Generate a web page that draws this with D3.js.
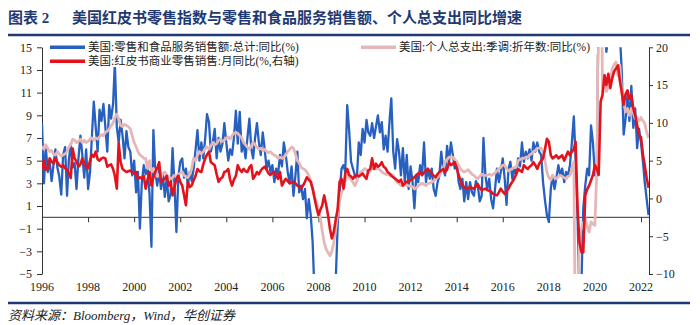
<!DOCTYPE html>
<html><head><meta charset="utf-8">
<script src="https://cdn.jsdelivr.net/npm/d3@7"></script>
<style>body{margin:0;background:#fff;} svg{display:block;}</style>
</head><body>
<svg id="chart" width="700" height="325"></svg>
<script>
// monthly series, first value = Jan 1996 on the chart's time axis
const startYear = 1996;
const retailYoY = [
 8.3,3.0,6.2,4.0,5.0,3.2,4.6,6.0,4.4,3.6,2.0,5.5,
 6.2,1.9,5.0,6.5,4.4,4.8,2.5,5.2,7.2,5.5,3.5,6.0,
 2.5,4.0,7.0,10.2,8.0,5.8,9.5,8.5,10.0,8.0,5.8,9.9,
 8.7,10.0,13.6,8.0,6.6,8.6,7.2,5.2,7.6,6.2,5.8,3.7,
 5.0,2.2,4.0,-1.0,3.0,4.6,3.8,4.4,2.0,-2.6,7.7,4.0,
 2.8,4.2,2.5,3.8,1.8,3.5,1.4,2.0,6.1,3.0,-1.3,3.5,
 4.9,5.2,3.5,4.3,2.9,4.0,3.2,4.3,6.0,7.7,5.0,6.6,
 5.2,7.0,9.1,8.4,5.8,6.6,7.8,5.2,7.0,5.8,6.5,8.3,
 6.6,5.0,6.0,5.5,7.0,9.4,6.5,9.3,5.8,6.6,5.2,7.0,
 8.7,6.0,5.2,7.0,8.3,6.6,5.5,7.5,6.0,4.3,5.0,4.0,
 4.6,3.1,4.3,3.8,5.5,4.5,6.6,5.5,4.0,3.0,4.5,1.9,
 3.7,5.8,2.2,2.8,1.6,2.5,-0.1,1.6,0.2,-2.2,-7.0,-9.5,
 -9.8,-8.5,-9.5,-9.0,-8.0,-8.5,-7.5,-6.5,-6.0,-5.5,-0.7,2.2,
 4.3,4.6,4.0,9.9,7.7,4.9,4.3,3.7,3.4,6.6,5.5,7.8,
 6.6,8.6,7.5,7.2,8.3,7.0,8.0,9.0,7.5,8.4,6.0,7.2,
 5.8,8.5,10.5,5.8,4.3,6.9,5.8,3.7,6.1,3.1,5.5,2.5,
 4.5,3.1,0.8,3.7,3.1,4.6,3.7,6.6,3.1,4.3,3.4,4.3,
 2.5,1.9,3.0,3.7,5.8,4.3,3.7,6.3,4.9,6.6,5.5,4.3,
 4.9,3.1,2.5,3.4,1.4,3.1,1.6,3.1,2.2,1.9,3.2,2.8,
 1.4,1.9,7.0,3.7,2.5,3.4,1.6,0.8,2.5,4.3,3.1,4.0,
 5.2,3.4,1.1,4.3,4.9,3.4,4.3,3.8,5.2,4.5,6.6,4.9,
 5.8,5.2,6.0,5.0,6.6,5.8,6.6,5.8,5.5,3.1,1.5,0.2,
 -0.4,2.5,3.7,2.5,3.5,4.6,3.7,4.3,3.1,4.0,3.7,4.6,
 6.6,8.9,5.2,0.2,-8.0,-6.0,0.8,2.8,4.3,3.7,8.1,6.6,
 3.7,4.3,20,28,22,17,14.6,16,18,16.5,17.5,16,
 17,16,13,7.3,8.7,10.8,8.5,11.6,7.9,9.6,6.1,7.8,
 6.6,4.9,3.1,1.6,0.2
];
const pceYoY = [
 6.3,6.0,6.4,6.1,5.8,5.9,5.6,5.5,5.8,5.6,5.4,5.5,
 5.6,5.8,6.2,6.4,6.9,6.8,6.6,6.7,6.9,6.6,6.8,6.6,
 6.7,6.9,7.0,6.8,7.0,6.9,7.1,7.3,7.2,7.5,7.6,7.8,
 8.1,8.3,8.8,9.1,8.7,8.1,8.0,8.2,8.1,8.0,7.8,7.2,
 6.6,6.2,5.8,5.5,5.4,5.2,5.2,4.3,5.0,4.0,4.3,3.9,
 3.6,3.8,3.5,3.9,4.0,3.7,3.6,3.4,3.5,3.7,3.6,3.8,
 3.9,4.0,3.7,3.6,3.5,3.8,4.3,5.2,5.0,5.5,5.8,5.6,
 5.8,6.1,6.2,6.0,6.3,6.6,6.4,6.5,6.8,6.9,6.7,6.8,
 7.0,7.1,6.9,7.2,7.4,7.5,7.4,7.2,7.0,6.6,6.4,6.2,
 6.0,6.3,6.6,6.4,6.2,6.0,6.1,5.9,6.0,5.8,5.7,5.8,
 5.6,5.5,5.4,5.2,5.3,5.2,5.3,5.5,5.8,6.0,6.2,6.1,
 5.6,5.0,4.8,4.4,4.3,4.2,4.0,3.7,3.2,2.5,1.8,1.4,
 0.6,-0.1,-1.2,-2.2,-2.8,-3.1,-3.4,-3.0,-2.2,-1.0,0.4,1.4,
 2.2,2.5,3.2,3.7,3.5,3.3,3.1,2.8,3.2,3.7,4.0,4.1,
 4.3,4.2,4.0,4.1,4.3,4.4,4.3,4.3,4.2,4.0,3.9,3.8,
 3.8,3.7,3.8,3.7,3.4,3.1,3.0,2.8,3.0,2.9,2.8,2.8,
 2.7,2.7,2.5,2.6,2.8,2.9,3.0,2.9,2.8,3.0,3.0,3.1,
 3.2,3.4,3.5,3.7,4.0,4.3,4.9,5.1,5.3,5.3,5.3,5.1,
 4.9,4.6,4.3,4.1,4.0,4.1,4.2,4.0,3.8,3.7,3.5,3.4,
 3.6,3.8,3.7,3.7,3.7,3.8,3.7,3.8,3.9,4.1,4.3,4.4,
 4.6,4.6,4.3,4.1,4.2,4.3,4.4,4.4,5.0,5.1,5.2,5.2,
 5.3,5.3,5.5,5.6,5.8,5.9,6.1,6.1,6.1,5.8,5.0,4.0,
 3.5,3.3,3.7,3.5,3.4,3.6,3.7,3.6,3.5,3.4,3.6,3.7,
 4.3,4.9,-13,-9,-1.5,-1.0,-0.5,-0.1,-0.8,-1.3,-0.4,-0.6,
 -0.7,4.3,22,28,11.1,12.5,11.1,11.5,12.0,13.1,13.5,13.7,
 12.5,13.4,11.0,10.2,9.3,9.6,9.0,9.6,9.2,8.7,8.8,8.5,
 8.8,8.5,8.3,7.5,7.0
];
const redbookYoY = [
 3.9,5.0,3.8,4.0,5.3,4.9,4.6,5.3,4.8,4.4,4.2,4.4,
 4.0,3.8,3.3,2.7,6.6,5.3,4.9,4.2,4.5,5.3,4.6,4.2,
 4.0,5.0,5.8,5.5,6.2,5.2,5.0,5.3,5.4,5.3,4.2,4.4,
 4.5,3.9,3.0,1.3,7.3,4.8,3.9,3.7,3.5,3.6,3.7,3.4,
 3.3,3.5,2.6,2.8,2.6,3.0,1.3,2.5,3.5,1.7,2.8,3.5,
 4.0,4.8,2.2,2.4,2.6,3.0,1.7,2.2,0.4,1.5,2.6,3.0,
 2.2,1.7,0.5,-0.9,2.2,1.5,1.7,2.4,3.0,3.9,3.6,3.5,
 4.5,5.3,5.8,6.2,4.8,4.6,4.4,3.2,2.2,2.6,2.8,3.5,
 3.6,3.9,2.5,1.7,2.5,3.0,4.4,3.8,3.5,3.9,3.6,3.5,
 4.1,4.4,2.6,3.0,3.5,3.2,3.7,4.0,4.2,3.8,3.3,3.1,
 3.4,3.5,3.0,2.6,3.5,1.7,2.2,2.6,2.3,2.0,2.1,2.2,
 2.0,1.7,1.5,1.3,1.7,2.2,2.8,2.5,2.2,1.3,0.0,-1.2,
 -2.2,-1.5,-0.9,0.4,-0.8,-2.2,-4.0,-5.3,-4.4,-2.8,-1.4,2.2,
 2.6,1.3,3.3,3.9,3.1,2.9,2.6,3.0,3.1,2.9,3.1,3.3,
 2.9,2.6,3.7,3.9,5.3,3.9,4.6,4.2,4.4,4.8,4.2,4.0,
 3.5,3.3,3.0,2.8,2.6,2.4,2.2,2.5,1.7,2.0,2.2,2.3,
 2.4,2.6,2.8,3.1,3.3,3.5,3.1,3.4,3.7,3.9,3.6,3.3,
 3.0,2.8,3.2,3.5,3.7,3.9,3.5,3.8,4.8,4.4,4.6,4.8,
 4.0,3.1,2.4,1.7,1.5,1.3,1.4,1.5,1.4,1.3,1.6,1.9,
 1.4,1.1,1.2,1.3,1.1,1.0,0.9,0.6,0.5,0.4,0.8,1.3,
 0.9,0.6,1.0,1.3,1.8,2.2,2.6,3.2,3.9,3.7,3.5,4.4,
 4.1,3.9,4.2,4.4,4.8,4.4,3.9,4.6,5.0,5.3,6.5,7.9,
 7.5,5.7,5.3,5.5,5.7,5.3,5.5,5.7,5.0,5.6,6.2,5.7,
 6.2,6.5,7.5,-1.4,-5.8,-7.1,-7.1,0.4,1.2,1.7,2.4,3.1,
 4.4,3.9,3.1,12.8,13.7,16.3,15.0,16.5,14.6,15.9,16.8,17.2,
 17.6,15.5,14.1,12.4,13.8,14.3,13.2,13.7,11.9,11.0,9.7,8.4,
 8.1,5.8,4.4,2.7,1.4
];
const xTickYears = [1996,1998,2000,2002,2004,2006,2008,2010,2012,2014,2016,2018,2020,2022];
const leftTicks = [-5,-3,-1,1,3,5,7,9,11,13,15];
const rightTicks = [-10,-5,0,5,10,15,20];
const legendNames = ["美国:零售和食品服务销售额:总计:同比(%)","美国:红皮书商业零售销售:月同比(%,右轴)","美国:个人总支出:季调:折年数:同比(%)"];
const titleLabel = "图表 2";
const titleText = "美国红皮书零售指数与零售和食品服务销售额、个人总支出同比增速";
const sourceText = "资料来源：Bloomberg，Wind，华创证券";

const colors = {blue:"#2760bf", red:"#e3121b", pink:"#e5b8b7", navy:"#1f3a73"};
const svg = d3.select("#chart");
const serif = "'Liberation Serif','Noto Sans CJK SC',serif";

const plotL = 42, plotR = 649, plotT = 47.3, plotB = 274;
const x = d3.scaleTime().domain([new Date(1996,0,1), new Date(2022,0,1)]).range([plotL, 641]);
const yL = d3.scaleLinear().domain([-5,15]).range([plotB, plotT]);
const yR = d3.scaleLinear().domain([-10,20]).range([plotB, plotT]);
const dateOf = i => new Date(startYear, i, 1);

// title
svg.append("text").attr("x",8).attr("y",23).attr("fill",colors.navy)
  .style("font-family",serif).style("font-size","15px").style("font-weight","bold")
  .text(titleLabel);
svg.append("text").attr("x",72).attr("y",23).attr("fill",colors.navy)
  .style("font-family",serif).style("font-size","15px").style("font-weight","bold")
  .text(titleText);
svg.append("line").attr("x1",8).attr("x2",690).attr("y1",35).attr("y2",35)
  .attr("stroke",colors.navy).attr("stroke-width",2.5);

// clip
svg.append("defs").append("clipPath").attr("id","plot")
  .append("rect").attr("x",plotL).attr("y",plotT).attr("width",plotR-plotL).attr("height",plotB-plotT);

// axes
const axisStyle = g => {
  g.selectAll("path,line").attr("stroke","#333").attr("stroke-width",1);
  g.selectAll("text").style("font-family",serif).style("font-size","12px").attr("fill","#222");
};
svg.append("g").attr("transform",`translate(${plotL},0)`)
  .call(d3.axisLeft(yL).tickValues(leftTicks).tickSize(5).tickPadding(5).tickSizeOuter(0))
  .call(axisStyle);
svg.append("g").attr("transform",`translate(${plotR},0)`)
  .call(d3.axisRight(yR).tickValues(rightTicks).tickSize(4).tickPadding(3).tickSizeOuter(0))
  .call(axisStyle);
const xAxisG = svg.append("g").attr("transform",`translate(0,${yL(0)})`)
  .call(d3.axisBottom(x).tickValues(xTickYears.map(y=>new Date(y,0,1))).tickSize(5).tickSizeOuter(0).tickFormat(""))
  .call(axisStyle);
xAxisG.select(".domain").attr("d",`M${plotL},0H${plotR}`);
svg.append("g").selectAll("text").data(xTickYears).join("text")
  .attr("x",d=>x(new Date(d,0,1))).attr("y",291).attr("text-anchor","middle")
  .style("font-family",serif).style("font-size","12px").attr("fill","#222")
  .text(d=>d);

// lines
const plot = svg.append("g").attr("clip-path","url(#plot)");
const lineL = d3.line().x((d,i)=>x(dateOf(i))).y(d=>yL(d));
const lineR = d3.line().x((d,i)=>x(dateOf(i))).y(d=>yR(d));
plot.append("path").datum(retailYoY).attr("d",lineL).attr("fill","none")
  .attr("stroke",colors.blue).attr("stroke-width",2.3).attr("stroke-linejoin","round");
plot.append("path").datum(pceYoY).attr("d",lineL).attr("fill","none")
  .attr("stroke",colors.pink).attr("stroke-width",2.8).attr("stroke-linejoin","round");
plot.append("path").datum(redbookYoY).attr("d",lineR).attr("fill","none")
  .attr("stroke",colors.red).attr("stroke-width",2.6).attr("stroke-linejoin","round");

// legend
const legend = svg.append("g");
legend.append("rect").attr("x",48).attr("y",40).attr("width",268).attr("height",27).attr("fill","#fff");
legend.append("rect").attr("x",359).attr("y",40).attr("width",238).attr("height",14).attr("fill","#fff");
const legendItems = [
  {name:legendNames[0], color:colors.blue, x:50, y:47.3},
  {name:legendNames[1], color:colors.red, x:50, y:61.3},
  {name:legendNames[2], color:colors.pink, x:361, y:47.3}
];
legendItems.forEach(d=>{
  legend.append("line").attr("x1",d.x).attr("x2",d.x+35).attr("y1",d.y).attr("y2",d.y)
    .attr("stroke",d.color).attr("stroke-width",3.5);
  legend.append("text").attr("x",d.x+38).attr("y",d.y+4).attr("fill","#222")
    .style("font-family",serif).style("font-size","11.5px").text(d.name);
});

// footer
svg.append("line").attr("x1",8).attr("x2",690).attr("y1",303).attr("y2",303)
  .attr("stroke",colors.navy).attr("stroke-width",2.5);
svg.append("text").attr("x",8).attr("y",320).attr("fill","#222")
  .style("font-family",serif).style("font-size","13px").style("font-style","italic")
  .text(sourceText);
</script>
</body></html>
